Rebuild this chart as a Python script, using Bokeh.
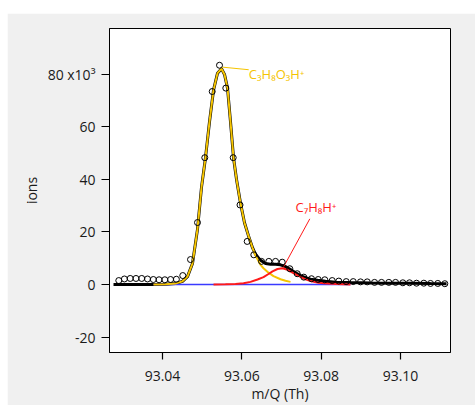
from bokeh.plotting import figure
from bokeh.models import FixedTicker, NumeralTickFormatter, Range1d, Label
from bokeh.embed import file_html
from bokeh.resources import INLINE

# ---- data ----
mz_obs = [93.02898, 93.03040, 93.03186, 93.03332, 93.03476, 93.03622, 93.03769,
          93.03913, 93.04059, 93.04204, 93.04350, 93.04511, 93.04706, 93.04882,
          93.05066, 93.05253, 93.05437, 93.05596, 93.05782, 93.05954, 93.06135,
          93.06302, 93.06496, 93.06680, 93.06849, 93.07018, 93.07209, 93.07396,
          93.07562, 93.07756, 93.07925, 93.08091, 93.08278, 93.08444, 93.08631,
          93.08808, 93.08992, 93.09161, 93.09345, 93.09521, 93.09705, 93.09874,
          93.10058, 93.10227, 93.10403, 93.10588, 93.10756, 93.10940, 93.11117]
ions_obs = [1500, 2100, 2300, 2300, 2300, 2100, 1900,
            1800, 1800, 1900, 2000, 3400, 9500, 23600,
            48300, 73500, 83500, 74800, 48300, 30300, 16400,
            11300, 8800, 8800, 8800, 8500, 6000, 4100,
            2800, 2200, 1900, 1800, 1500, 1300, 1100,
            1100, 1000, 1000, 800, 800, 800, 800,
            650, 650, 500, 500, 400, 400, 300]

# total fit (black)
mz_total = [93.02765, 93.03773, 93.04076, 93.04328, 93.04504, 93.04630, 93.04756,
            93.04882, 93.04983, 93.05084, 93.05185, 93.05286, 93.05387, 93.05487,
            93.05563, 93.05639, 93.05714, 93.05790, 93.05866, 93.05966, 93.06067,
            93.06168, 93.06269, 93.06345, 93.06471, 93.06597, 93.06723, 93.06849,
            93.06975, 93.07101, 93.07227, 93.07353, 93.07479, 93.07605, 93.07731,
            93.07908, 93.08109, 93.08361, 93.08739, 93.09244, 93.09748, 93.10252,
            93.10756, 93.11160]
ions_total = [0, 0, 100, 400, 1200, 3000, 8000,
              21000, 37000, 48300, 62000, 74000, 80500, 82200,
              80000, 74800, 62000, 48300, 40000, 31000, 23500,
              18500, 14000, 11500, 9200, 8000, 7700, 7700,
              7500, 6800, 5700, 4500, 3400, 2600, 2000,
              1600, 1200, 900, 750, 600, 500, 450,
              350, 300]

# C3H8O3H+ component (yellow)
mz_c3 = [93.03773, 93.04076, 93.04328, 93.04504, 93.04630, 93.04756,
         93.04882, 93.04983, 93.05084, 93.05185, 93.05286, 93.05387, 93.05487,
         93.05563, 93.05639, 93.05714, 93.05790, 93.05866, 93.05966, 93.06067,
         93.06168, 93.06269, 93.06345, 93.06471, 93.06546, 93.06672, 93.06798,
         93.06975, 93.07101, 93.07227]
ions_c3 = [0, 100, 400, 1200, 3000, 8000,
           21000, 37000, 48300, 62000, 74000, 80500, 82200,
           80000, 74800, 62000, 48300, 40000, 31000, 23500,
           18500, 14000, 11000, 7500, 6200, 4500, 3200,
           2000, 1400, 1000]

# C7H8H+ component (red)
mz_c7 = [93.05286, 93.05588, 93.05840, 93.06042, 93.06218, 93.06395, 93.06546,
         93.06672, 93.06773, 93.06899, 93.07025, 93.07151, 93.07277, 93.07403,
         93.07555, 93.07731, 93.07933, 93.08160, 93.08412, 93.08739]
ions_c7 = [0, 50, 200, 500, 1000, 1900, 2800,
           4000, 5000, 5900, 6200, 5600, 4500, 3500,
           2300, 1300, 650, 350, 150, 0]

# baseline (blue)
mz_base = [93.03773, 93.08739]
ions_base = [0, 0]

# peak labels
species = ["C\u2083H\u2088O\u2083H\u207a", "C\u2087H\u2088H\u207a"]
label_mz = [93.06177, 93.07353]
label_ions = [80300, 29700]
leader_from_mz = [93.05502, 93.07058]
leader_from_ions = [82800, 6860]
leader_to_mz = [93.06173, 93.07713]
leader_to_ions = [81800, 25000]

x_ticks = [93.04, 93.06, 93.08, 93.10]
y_ticks = [-20000, 0, 20000, 40000, 60000, 80000]
y_tick_labels = ["-20", "0", "20", "40", "60", "80 x10\u00b3"]

FONT = "Open Sans"
YELLOW = "#f5c400"
RED = "#ff1a1a"

p = figure(width=468, height=392, output_backend="svg", toolbar_location=None,
           x_range=Range1d(93.02664, 93.11260), y_range=Range1d(-25900, 97500),
           min_border_left=102, min_border_top=15, min_border_right=25,
           min_border_bottom=53)
p.margin = (13, 0, 0, 7)
p.border_fill_color = "#f0f0f0"
p.background_fill_color = "white"
p.outline_line_color = "black"
p.outline_line_width = 1
p.xgrid.visible = False
p.ygrid.visible = False

p.xaxis.ticker = FixedTicker(ticks=x_ticks)
p.xaxis.formatter = NumeralTickFormatter(format="0.00")
p.yaxis.ticker = FixedTicker(ticks=y_ticks)
p.yaxis.major_label_overrides = {t: s for t, s in zip(y_ticks, y_tick_labels)}
for ax in (p.xaxis, p.yaxis):
    ax.minor_tick_line_color = None
    ax.major_tick_in = 0
    ax.major_tick_line_color = "black"
    ax.major_tick_line_width = 1.2
    ax.axis_line_color = "black"
    ax.major_label_text_font = FONT
    ax.major_label_text_font_size = "14px"
    ax.major_label_text_color = "#1a1a1a"
    ax.axis_label_text_font = FONT
    ax.axis_label_text_font_size = "14px"
    ax.axis_label_text_font_style = "normal"
    ax.axis_label_text_color = "#1a1a1a"
p.xaxis.major_tick_out = 7
p.yaxis.major_tick_out = 8
p.xaxis.major_label_standoff = 11
p.yaxis.major_label_standoff = 6
p.xaxis.axis_label = "m/Q (Th)"
p.yaxis.axis_label = "ions"
p.xaxis.axis_label_standoff = 0
p.yaxis.axis_label_standoff = 4

# curves
p.line(mz_total, ions_total, line_color="black", line_width=3)
p.line(mz_base, ions_base, line_color="#3a3aff", line_width=1.6)
p.line(mz_c3, ions_c3, line_color=YELLOW, line_width=2)
p.line(mz_c7, ions_c7, line_color=RED, line_width=2)

# leader lines
p.segment(x0=leader_from_mz[:1], y0=leader_from_ions[:1], x1=leader_to_mz[:1],
          y1=leader_to_ions[:1], line_color=YELLOW, line_width=1)
p.segment(x0=leader_from_mz[1:], y0=leader_from_ions[1:], x1=leader_to_mz[1:],
          y1=leader_to_ions[1:], line_color=RED, line_width=1)

# observations
p.scatter(mz_obs, ions_obs, marker="circle", size=6, fill_color=None,
          line_color="black", line_width=1)

for txt, lx, ly, col in zip(species, label_mz, label_ions, [YELLOW, RED]):
    p.add_layout(Label(x=lx, y=ly, text=txt, text_color=col, text_font=FONT,
                       text_font_size="13px", text_baseline="middle",
                       text_align="left"))

open("out.html", "w").write(file_html(p, INLINE))
